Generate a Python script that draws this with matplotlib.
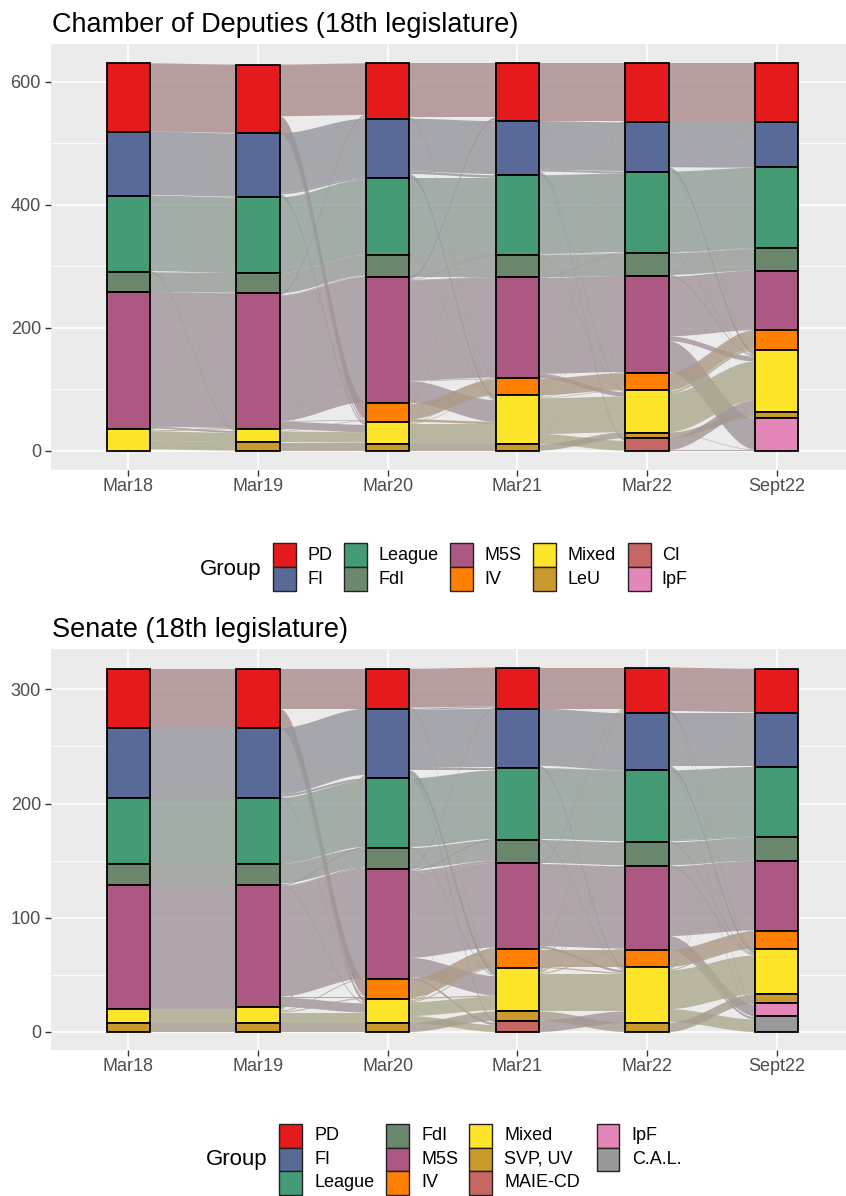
import numpy as np
import matplotlib.pyplot as plt
from matplotlib.patches import Polygon, Rectangle
from matplotlib.colors import to_rgb

plt.rcParams['font.family'] = ['Liberation Sans', 'DejaVu Sans']

W, H = 846, 1196

periods = ['Mar18', 'Mar19', 'Mar20', 'Mar21', 'Mar22', 'Sept22']

colors = {
    'PD': '#E41A1C', 'FI': '#596A99', 'League': '#449B76', 'FdI': '#6B886E',
    'M5S': '#AD5882', 'IV': '#FF7F00', 'Mixed': '#FFE529',
    'LeU': '#CA9A2C', 'SVP, UV': '#CA9A2C',
    'CI': '#C66764', 'MAIE-CD': '#C66764',
    'IpF': '#E486B7', 'C.A.L.': '#999999',
}

# ---- Chamber of Deputies ----
chamber_groups = ['PD', 'FI', 'League', 'FdI', 'M5S', 'IV', 'Mixed', 'LeU', 'CI', 'IpF']
chamber_mar18 = [111, 104, 125, 32, 222, 0, 36, 0, 0, 0]
chamber_mar19 = [112, 104, 123, 33, 221, 0, 21, 14, 0, 0]
chamber_mar20 = [90, 96, 126, 35, 205, 31, 36, 11, 0, 0]
chamber_mar21 = [94, 88, 130, 36, 164, 28, 79, 11, 0, 0]
chamber_mar22 = [96, 80, 133, 37, 157, 29, 69, 9, 20, 0]
chamber_sep22 = [96, 73, 132, 36, 97, 33, 100, 10, 0, 53]

chamber_flows_1 = [
    ('PD', 'PD', 111), ('FI', 'FI', 103), ('FI', 'Mixed', 1),
    ('League', 'League', 123), ('League', 'Mixed', 2), ('FdI', 'FdI', 32),
    ('M5S', 'M5S', 219), ('M5S', 'Mixed', 3),
    ('Mixed', 'PD', 1), ('Mixed', 'FI', 1), ('Mixed', 'FdI', 1), ('Mixed', 'M5S', 2),
    ('Mixed', 'Mixed', 15), ('Mixed', 'LeU', 14),
]
chamber_flows_2 = [
    ('PD', 'PD', 84), ('PD', 'IV', 26), ('PD', 'Mixed', 2),
    ('FI', 'FI', 96), ('FI', 'League', 3), ('FI', 'IV', 2), ('FI', 'Mixed', 3),
    ('League', 'League', 123), ('FdI', 'FdI', 33),
    ('M5S', 'PD', 3), ('M5S', 'FdI', 1), ('M5S', 'M5S', 204), ('M5S', 'IV', 1), ('M5S', 'Mixed', 12),
    ('Mixed', 'PD', 2), ('Mixed', 'FdI', 1), ('Mixed', 'IV', 1), ('Mixed', 'Mixed', 17),
    ('LeU', 'PD', 1), ('LeU', 'Mixed', 2), ('LeU', 'LeU', 11),
]
chamber_flows_3 = [
    ('PD', 'PD', 88), ('PD', 'IV', 1), ('PD', 'Mixed', 1),
    ('FI', 'FI', 86), ('FI', 'League', 4), ('FI', 'Mixed', 6),
    ('League', 'League', 125), ('League', 'Mixed', 1), ('FdI', 'FdI', 35),
    ('M5S', 'PD', 4), ('M5S', 'League', 1), ('M5S', 'FdI', 1), ('M5S', 'M5S', 163),
    ('M5S', 'IV', 1), ('M5S', 'Mixed', 35),
    ('IV', 'PD', 2), ('IV', 'IV', 25), ('IV', 'Mixed', 4),
    ('Mixed', 'FI', 2), ('Mixed', 'M5S', 1), ('Mixed', 'IV', 1), ('Mixed', 'Mixed', 32),
    ('LeU', 'LeU', 11),
]
chamber_flows_4 = [
    ('PD', 'PD', 93), ('PD', 'IV', 1),
    ('FI', 'FI', 79), ('FI', 'League', 3), ('FI', 'Mixed', 2), ('FI', 'CI', 4),
    ('League', 'League', 128), ('League', 'FdI', 1), ('League', 'Mixed', 1), ('FdI', 'FdI', 36),
    ('M5S', 'League', 1), ('M5S', 'M5S', 156), ('M5S', 'Mixed', 7),
    ('IV', 'PD', 1), ('IV', 'IV', 27),
    ('Mixed', 'PD', 1), ('Mixed', 'FI', 1), ('Mixed', 'League', 1), ('Mixed', 'M5S', 1),
    ('Mixed', 'IV', 1), ('Mixed', 'Mixed', 58), ('Mixed', 'CI', 16),
    ('LeU', 'PD', 1), ('LeU', 'Mixed', 1), ('LeU', 'LeU', 9),
]
chamber_flows_5 = [
    ('PD', 'PD', 95), ('PD', 'Mixed', 1),
    ('FI', 'FI', 72), ('FI', 'League', 1), ('FI', 'Mixed', 6), ('FI', 'IpF', 1),
    ('League', 'League', 131), ('League', 'FdI', 1), ('League', 'Mixed', 1),
    ('FdI', 'FdI', 35), ('FdI', 'Mixed', 2),
    ('M5S', 'PD', 1), ('M5S', 'M5S', 97), ('M5S', 'Mixed', 8), ('M5S', 'IpF', 50),
    ('IV', 'IV', 29),
    ('Mixed', 'FI', 1), ('Mixed', 'IV', 4), ('Mixed', 'Mixed', 63), ('Mixed', 'IpF', 1),
    ('LeU', 'LeU', 9), ('CI', 'Mixed', 19), ('CI', 'IpF', 1),
]

# ---- Senate ----
senate_groups = ['PD', 'FI', 'League', 'FdI', 'M5S', 'IV', 'Mixed', 'SVP, UV', 'MAIE-CD', 'IpF', 'C.A.L.']
senate_mar18 = [52, 61, 58, 18, 109, 0, 12, 8, 0, 0, 0]
senate_mar19 = [52, 61, 58, 18, 107, 0, 14, 8, 0, 0, 0]
senate_mar20 = [35, 61, 61, 18, 97, 17, 21, 8, 0, 0, 0]
senate_mar21 = [36, 52, 63, 20, 75, 17, 38, 8, 10, 0, 0]
senate_mar22 = [40, 50, 63, 21, 73, 15, 49, 8, 0, 0, 0]
senate_sep22 = [39, 47, 61, 21, 62, 15, 40, 8, 0, 11, 14]

senate_flows_1 = [
    ('PD', 'PD', 52), ('FI', 'FI', 61), ('League', 'League', 58), ('FdI', 'FdI', 18),
    ('M5S', 'M5S', 107), ('M5S', 'Mixed', 2), ('Mixed', 'Mixed', 12), ('SVP, UV', 'SVP, UV', 8),
]
senate_flows_2 = [
    ('PD', 'PD', 35), ('PD', 'IV', 14), ('PD', 'Mixed', 3),
    ('FI', 'FI', 58), ('FI', 'League', 2), ('FI', 'IV', 1),
    ('League', 'League', 58), ('FdI', 'FdI', 17), ('FdI', 'Mixed', 1),
    ('M5S', 'League', 1), ('M5S', 'FdI', 1), ('M5S', 'M5S', 96), ('M5S', 'IV', 1), ('M5S', 'Mixed', 8),
    ('Mixed', 'FI', 3), ('Mixed', 'M5S', 1), ('Mixed', 'IV', 1), ('Mixed', 'Mixed', 9),
    ('SVP, UV', 'SVP, UV', 8),
]
senate_flows_3 = [
    ('PD', 'PD', 34), ('PD', 'Mixed', 1),
    ('FI', 'PD', 1), ('FI', 'FI', 51), ('FI', 'League', 2), ('FI', 'Mixed', 5), ('FI', 'MAIE-CD', 2),
    ('League', 'League', 60), ('League', 'Mixed', 1), ('FdI', 'FdI', 18),
    ('M5S', 'PD', 1), ('M5S', 'League', 1), ('M5S', 'FdI', 2), ('M5S', 'M5S', 74),
    ('M5S', 'Mixed', 17), ('M5S', 'MAIE-CD', 2),
    ('IV', 'IV', 16), ('IV', 'Mixed', 1),
    ('Mixed', 'FI', 1), ('Mixed', 'M5S', 1), ('Mixed', 'IV', 1), ('Mixed', 'Mixed', 12),
    ('Mixed', 'MAIE-CD', 6),
    ('SVP, UV', 'SVP, UV', 8),
]
senate_flows_4 = [
    ('PD', 'PD', 36), ('FI', 'FI', 50), ('FI', 'Mixed', 2),
    ('League', 'League', 62), ('League', 'Mixed', 1), ('FdI', 'FdI', 20),
    ('M5S', 'PD', 1), ('M5S', 'M5S', 72), ('M5S', 'Mixed', 2),
    ('IV', 'PD', 1), ('IV', 'IV', 15), ('IV', 'Mixed', 1),
    ('Mixed', 'PD', 2), ('Mixed', 'League', 1), ('Mixed', 'FdI', 1), ('Mixed', 'M5S', 1),
    ('Mixed', 'Mixed', 33),
    ('SVP, UV', 'SVP, UV', 8), ('MAIE-CD', 'Mixed', 10),
]
senate_flows_5 = [
    ('PD', 'PD', 38), ('PD', 'Mixed', 1), ('PD', 'IpF', 1),
    ('FI', 'FI', 46), ('FI', 'Mixed', 3), ('FI', 'C.A.L.', 1),
    ('League', 'League', 61), ('League', 'FdI', 1), ('League', 'Mixed', 1),
    ('FdI', 'FdI', 20), ('FdI', 'Mixed', 1),
    ('M5S', 'M5S', 61), ('M5S', 'IpF', 10), ('M5S', 'C.A.L.', 2),
    ('IV', 'IV', 15),
    ('Mixed', 'PD', 1), ('Mixed', 'FI', 1), ('Mixed', 'M5S', 1), ('Mixed', 'Mixed', 34),
    ('Mixed', 'C.A.L.', 11),
    ('SVP, UV', 'SVP, UV', 8),
]

STRATUM_W = 1 / 3
PANEL_BG = '#EBEBEB'


def fx(x):
    return x / W


def fy(y):
    return 1 - y / H


def flow_color(group):
    c = np.array(to_rgb(colors[group]))
    return tuple(0.15 * c + 0.85 * 0.62)


def stack(groups, seats):
    # first group sits on top of the column
    bounds = {}
    top = sum(seats)
    for g, n in zip(groups, seats):
        if n > 0:
            bounds[g] = (top - n, top)
            top -= n
    return bounds


def draw_flows(ax, step, flows, groups, left, right):
    order = {g: i for i, g in enumerate(groups)}
    out_pos, in_pos = {}, {}
    cursor = {g: b[1] for g, b in left.items()}
    for src, dst, n in sorted(flows, key=lambda f: (order[f[0]], order[f[1]])):
        hi = cursor[src]
        out_pos[(src, dst)] = (hi - n, hi)
        cursor[src] = hi - n
    cursor = {g: b[1] for g, b in right.items()}
    for src, dst, n in sorted(flows, key=lambda f: (order[f[1]], order[f[0]])):
        hi = cursor[dst]
        in_pos[(src, dst)] = (hi - n, hi)
        cursor[dst] = hi - n

    x0 = step + 1 + STRATUM_W / 2
    x1 = step + 2 - STRATUM_W / 2
    t = np.linspace(0, 1, 80)
    s = t * t * (3 - 2 * t)
    xs = x0 + (x1 - x0) * t
    for src, dst, n in flows:
        a_lo, a_hi = out_pos[(src, dst)]
        b_lo, b_hi = in_pos[(src, dst)]
        top = a_hi + (b_hi - a_hi) * s
        bot = a_lo + (b_lo - a_lo) * s
        pts = np.column_stack([np.r_[xs, xs[::-1]], np.r_[top, bot[::-1]]])
        ax.add_patch(Polygon(pts, closed=True, fc=flow_color(src), ec='none',
                             alpha=0.8, zorder=1))


def draw_panel(ax, groups, seats_list, flows_list, major, minor):
    bounds = [stack(groups, s) for s in seats_list]
    for k, flows in enumerate(flows_list):
        draw_flows(ax, k, flows, groups, bounds[k], bounds[k + 1])
    for k, b in enumerate(bounds):
        for g, (lo, hi) in b.items():
            ax.bar(k + 1, hi - lo, bottom=lo, width=STRATUM_W, color=colors[g],
                   edgecolor='black', linewidth=1.3, zorder=3)

    ymax = max(sum(s) for s in seats_list)
    ax.set_xlim(0.4, 6.6)
    ax.set_ylim(-0.05 * ymax, 1.05 * ymax)
    ax.set_facecolor(PANEL_BG)
    for sp in ax.spines.values():
        sp.set_visible(False)
    ax.set_xticks(range(1, 7))
    ax.set_xticklabels(periods)
    ax.set_yticks(major)
    ax.set_yticks(minor, minor=True)
    ax.tick_params(axis='both', which='major', labelsize=13, labelcolor='#4D4D4D',
                   color='#333333', length=4, width=1)
    ax.tick_params(axis='y', which='major', pad=2.9)
    ax.tick_params(axis='x', which='major', pad=1.5)
    ax.tick_params(axis='y', which='minor', length=0)
    ax.grid(True, which='major', color='white', linewidth=1.2, zorder=0)
    ax.grid(True, which='minor', axis='y', color='white', linewidth=0.6, zorder=0)
    ax.set_axisbelow(True)


def draw_legend(fig, columns, key_x, row_y, key_w, key_h, label_dx, title_right, title_y):
    fig.text(fx(title_right), fy(title_y), 'Group', fontsize=16, ha='right',
             va='center', color='black')
    for col, x in zip(columns, key_x):
        for g, y in zip(col, row_y):
            fig.add_artist(Rectangle((fx(x), fy(y + key_h)), key_w / W, key_h / H,
                                     transform=fig.transFigure, fc=colors[g],
                                     ec='#222222', lw=1.0))
            fig.text(fx(x + label_dx), fy(y + key_h / 2), g, fontsize=13,
                     ha='left', va='center', color='black')


fig = plt.figure(figsize=(W / 100, H / 100), dpi=100)
fig.patch.set_facecolor('white')

ax1 = fig.add_axes([fx(50.5), fy(470), 804.1 / W, 426 / H])
draw_panel(ax1, chamber_groups,
           [chamber_mar18, chamber_mar19, chamber_mar20, chamber_mar21, chamber_mar22, chamber_sep22],
           [chamber_flows_1, chamber_flows_2, chamber_flows_3, chamber_flows_4, chamber_flows_5],
           [0, 200, 400, 600], [100, 300, 500])
fig.text(fx(51.5), fy(32), 'Chamber of Deputies (18th legislature)', fontsize=19.5,
         va='baseline', ha='left', color='black')

ax2 = fig.add_axes([fx(50.5), fy(1050.2), 804.1 / W, 400.8 / H])
draw_panel(ax2, senate_groups,
           [senate_mar18, senate_mar19, senate_mar20, senate_mar21, senate_mar22, senate_sep22],
           [senate_flows_1, senate_flows_2, senate_flows_3, senate_flows_4, senate_flows_5],
           [0, 100, 200, 300], [50, 150, 250])
fig.text(fx(51.5), fy(637), 'Senate (18th legislature)', fontsize=19.5,
         va='baseline', ha='left', color='black')

draw_legend(fig,
            [['PD', 'FI'], ['League', 'FdI'], ['M5S', 'IV'], ['Mixed', 'LeU'], ['CI', 'IpF']],
            [273.3, 344, 450, 533.3, 627.7], [543.3, 567.3], 23, 24, 34, 261, 569)
draw_legend(fig,
            [['PD', 'FI', 'League'], ['FdI', 'M5S', 'IV'], ['Mixed', 'SVP, UV', 'MAIE-CD'],
             ['IpF', 'C.A.L.']],
            [279.3, 386, 469.3, 596.7], [1124, 1147.5, 1171], 22.5, 23.5, 35, 267, 1160)

fig.savefig('out.png', dpi=100)
